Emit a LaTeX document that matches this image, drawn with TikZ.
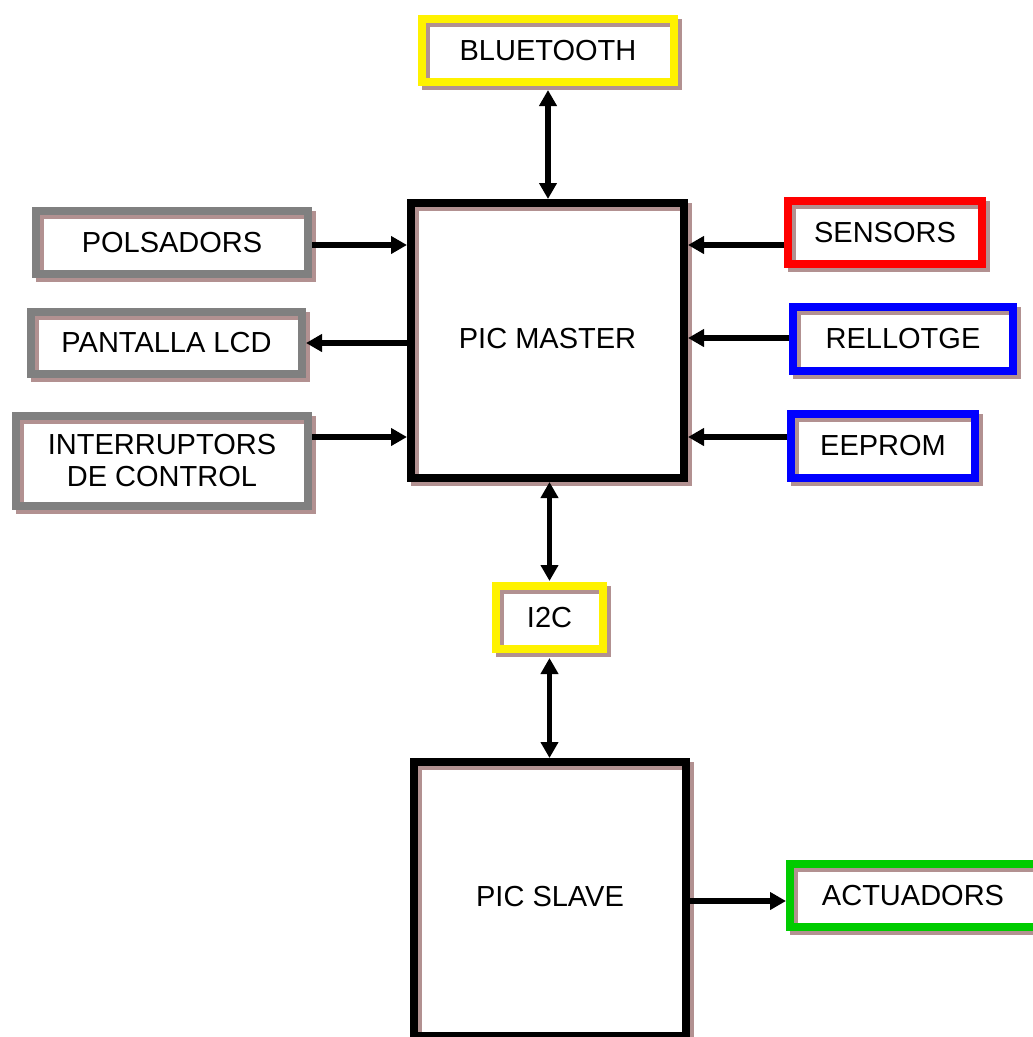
\documentclass[tikz,border=0pt]{standalone}
\usepackage{fontspec}
\setmainfont{Liberation Sans}
\usetikzlibrary{arrows.meta}
\definecolor{shadowc}{RGB}{178,145,145}
\definecolor{framegray}{RGB}{128,128,128}
\definecolor{framegreen}{RGB}{0,204,0}

\begin{document}
\begin{tikzpicture}[x=1pt,y=-1pt,
  blk/.style={draw=#1, line width=8pt, inner sep=0pt, align=center,
    font=\fontsize{29}{32}\selectfont,
    preaction={draw=shadowc, line width=8pt,
      transform canvas={shift={(4pt,-4pt)}}}},
  arr/.style={line width=5.5pt, -{Triangle[length=16pt,width=17pt]}},
  biarr/.style={line width=5.5pt,
    {Triangle[length=16pt,width=17pt]}-{Triangle[length=16pt,width=17pt]}}]

\useasboundingbox (0,0) rectangle (1033,1037);
\clip (0,0) rectangle (1033,1037);

% central controllers
\node[blk=black, minimum width=273pt, minimum height=275pt] (master) at (547.5,340.5) {\raisebox{5pt}{PIC MASTER}};
\node[blk=black, minimum width=272pt, minimum height=274pt] (slave) at (550,899) {\raisebox{6pt}{PIC SLAVE}};

% buses
\node[blk=yellow, minimum width=252pt, minimum height=63pt] (bt) at (548,50.5) {BLUETOOTH};
\node[blk=yellow, minimum width=107pt, minimum height=63pt] (i2c) at (549.5,617.5) {I2C};

% left side peripherals
\node[blk=framegray, minimum width=272pt, minimum height=63pt] (pol) at (172,242.5) {POLSADORS};
\node[blk=framegray, minimum width=271pt, minimum height=62pt] (lcd) at (166.5,343) {PANTALLA LCD};
\node[blk=framegray, minimum width=292pt, minimum height=90pt] (intr) at (162,461) {INTERRUPTORS\\DE CONTROL};

% right side peripherals
\node[blk=red, minimum width=194pt, minimum height=63pt] (sen) at (885,232.5) {SENSORS};
\node[blk=blue, minimum width=220pt, minimum height=64pt] (rtc) at (903,339) {RELLOTGE};
\node[blk=blue, minimum width=184pt, minimum height=64pt] (eep) at (883,446) {EEPROM};
\node[blk=framegreen, minimum width=264pt, minimum height=63pt] (act) at (922,895.5) {ACTUADORS\kern18pt};

% vertical links
\draw[biarr, shorten <=4pt] (bt.south) -- (bt.south |- master.north);
\draw[biarr, shorten >=1pt] (master.south -| i2c) -- (i2c.north);
\draw[biarr, shorten <=5pt] (i2c.south) -- (i2c.south |- slave.north);

% left links
\draw[arr] (pol.east |- 0,245) -- (master.west |- 0,245);
\draw[arr] (master.west |- lcd.east) -- (lcd.east);
\draw[arr] (intr.east |- 0,437) -- (master.west |- 0,437);

% right links
\draw[arr] (sen.west |- 0,245) -- (master.east |- 0,245);
\draw[arr] (rtc.west |- 0,338) -- (master.east |- 0,338);
\draw[arr] (eep.west |- 0,437) -- (master.east |- 0,437);

% output link
\draw[arr] (slave.east |- 0,901) -- (act.west |- 0,901);
\end{tikzpicture}
\end{document}
